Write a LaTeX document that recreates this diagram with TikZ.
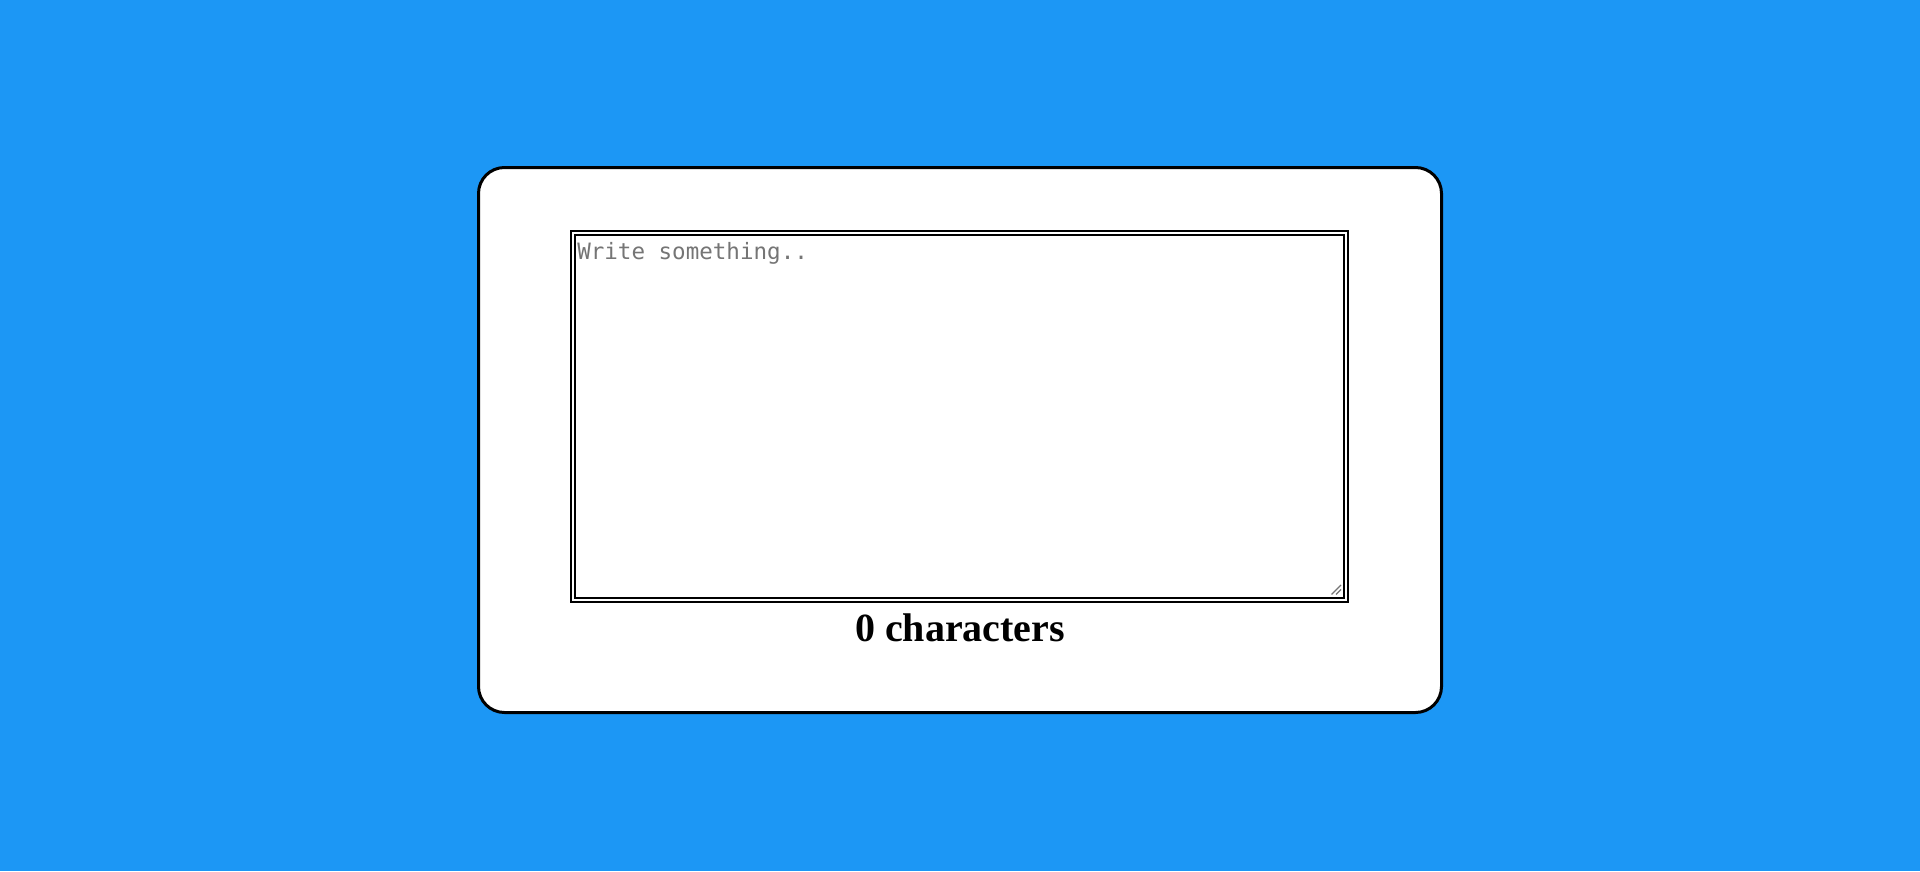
\documentclass[tikz,border=0pt]{standalone}
\usepackage{fontspec}
\setmainfont{Liberation Serif}
\newfontfamily\hintfont{DejaVu Sans Mono}
\definecolor{pagebg}{HTML}{1C97F5}
\definecolor{hintgray}{HTML}{757575}

\begin{document}
\begin{tikzpicture}[x=0.75pt, y=-0.75pt,
    card/.style={draw=black, fill=white, line width=2.25pt, rounded corners=19.5pt,
      minimum width=722.25pt, minimum height=408.75pt, inner sep=0pt, outer sep=0pt},
    textbox/.style={draw=black, double=white, line width=1.5pt, double distance=1.5pt,
      minimum width=579.75pt, minimum height=275.25pt, inner sep=0pt, outer sep=0pt}]
    \fill[pagebg] (0,0) rectangle (1920,871);
    \useasboundingbox (0,0) rectangle (1920,871);
%
    \node[card] (card) at (960,440) {};
    \node[textbox] (ta) at (959.5,416.5) {};
    \node[anchor=base west, inner sep=0pt, text=hintgray, font=\hintfont\fontsize{16.9}{20}\selectfont]
      (hint) at (577,259) {Write something..};
%
    \draw[hintgray, line width=0.9pt] (1331.5,594.5) -- (1341,585);
    \draw[hintgray, line width=0.9pt] (1336,594.5) -- (1341,589.5);
%
    \node[anchor=base, inner sep=0pt, font=\bfseries\fontsize{30}{36}\selectfont]
      (count) at (960,641) {0 characters};
  \end{tikzpicture}
\end{document}
